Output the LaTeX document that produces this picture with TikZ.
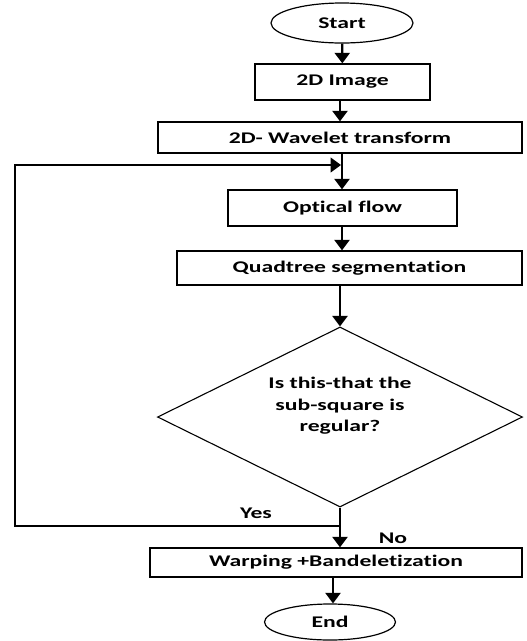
\documentclass[tikz,border=0pt]{standalone}
\usepackage{fontspec}
\setmainfont[FakeStretch=1.45,Ligatures=NoCommon]{Carlito}
\usetikzlibrary{arrows.meta, shapes.geometric, positioning}

\begin{document}
\begin{tikzpicture}[x=1pt,y=-1pt,
 font=\fontsize{16.3}{21.5}\selectfont\bfseries,
 >={Triangle[width=15pt,length=10.5pt]},
 box/.style={rectangle,draw=black,line width=1.3pt,align=center,inner sep=0pt},
 term/.style={ellipse,draw=black,line width=1.2pt,inner sep=0pt},
 decide/.style={diamond,draw=black,line width=1.1pt,align=center,inner sep=0pt},
 flow/.style={->,line width=2.3pt}]
 \useasboundingbox (0,0) rectangle (527,641);
 \node[term,minimum width=142pt,minimum height=40pt] (start) at (342,23) {Start};
 \node[box,minimum width=175pt,minimum height=36pt] (image) at (342.5,82) {2D Image};
 \node[box,minimum width=364pt,minimum height=31pt] (wavelet) at (340,137.5)
   {2D- Wavelet transform};
 \node[box,minimum width=229pt,minimum height=36pt] (optical) at (342.5,208) {Optical flow};
 \node[box,minimum width=345pt,minimum height=34pt] (quadtree) at (349.5,268)
   {Quadtree segmentation};
 \node[decide,minimum width=365pt,minimum height=180pt,
   label={[align=center,yshift=11pt]center:Is this-that the\\sub-square is\\regular?}]
   (regular) at (340,417) {};
 \node[box,minimum width=372pt,minimum height=29pt] (warping) at (336,562.5)
   {Warping +Bandeletization};
 \node[term,minimum width=131pt,minimum height=36pt] (end) at (330,622) {End};
 \coordinate (loopin) at (342,165);
 \coordinate (yesturn) at (15,526);
 \coordinate (yesup) at (15,165);
 \draw[flow] (start) -- (image);
 \draw[flow] (image.south -| wavelet) -- (wavelet);
 \draw[flow] (wavelet.south -| loopin) -- (optical.north -| loopin);
 \draw[flow] (optical.south -| loopin) -- (quadtree.north -| loopin);
 \draw[flow] (quadtree.south -| regular) -- (regular);
 \draw[flow] (regular) -- (warping.north -| regular);
 \draw[flow] (warping.south -| 333,0) -- (end.north -| 333,0);
 \draw[->,line width=1.3pt] (regular.south |- yesturn) -- (yesturn) -- (yesup)
   -- ([xshift=-1pt]loopin);
 \node (yes) at (256,513) {Yes};
 \node (no) at (393,538) {No};
\end{tikzpicture}
\end{document}
